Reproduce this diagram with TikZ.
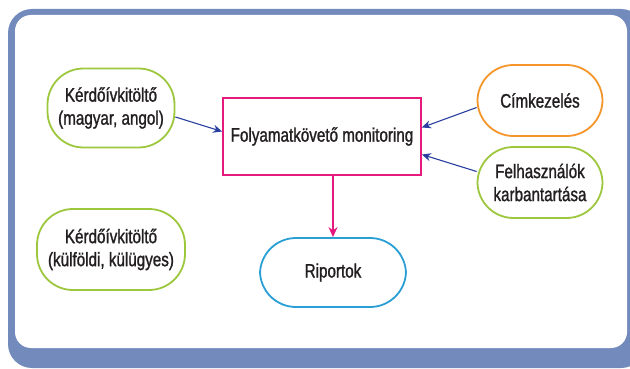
\documentclass[tikz,border=0pt]{standalone}
\usepackage{fontspec}
\setmainfont[FakeStretch=0.78,FakeBold=1.2]{Liberation Sans}
\usetikzlibrary{arrows.meta}
\definecolor{framec}{HTML}{738ABD}
\definecolor{greenc}{HTML}{9DC73C}
\definecolor{orangec}{HTML}{F5962A}
\definecolor{bluec}{HTML}{2A9FD6}
\definecolor{magc}{HTML}{E6197D}
\definecolor{navyc}{HTML}{2940A0}
\definecolor{txtc}{HTML}{231F20}
\tikzset{
  stadium/.style={draw, line width=1.8pt, rounded corners=36pt, align=center, text=txtc,
    font=\fontsize{19.5}{23}\selectfont, inner sep=0pt},
  procbox/.style={draw=magc, line width=1.8pt, align=center, text=txtc,
    font=\fontsize{19.5}{23}\selectfont, inner sep=0pt, minimum width=198pt, minimum height=77pt},
  navyarrow/.style={draw=navyc, line width=1.1pt, -{Stealth[length=9pt,width=8pt]}},
  magarrow/.style={draw=magc, line width=1.6pt, -{Stealth[length=10pt,width=9pt]}}
}
\begin{document}
\begin{tikzpicture}[x=1pt,y=-1pt]
\useasboundingbox (0,0) rectangle (630,369);
\fill[framec, rounded corners=24pt] (8,9) rectangle (645,368);
\fill[white, rounded corners=16pt] (15,15) rectangle (627,348);

\node[stadium, draw=greenc, minimum width=127pt, minimum height=79pt] (k1) at (111,108) {Kérdőívkitöltő\\(magyar, angol)};
\node[procbox] (fm) at (322,136.5) {Folyamatkövető monitoring};
\node[stadium, draw=orangec, minimum width=125pt, minimum height=71pt] (cim) at (540,100.5) {Címkezelés};
\node[stadium, draw=greenc, minimum width=125pt, minimum height=71pt] (fel) at (540,182.5) {Felhasználók\\karbantartása};
\node[stadium, draw=greenc, minimum width=148pt, minimum height=81pt] (k2) at (111,249.5) {Kérdőívkitöltő\\(külföldi, külügyes)};
\node[stadium, draw=bluec, minimum width=146pt, minimum height=69pt] (rip) at (333,272.5) {Riportok};

\draw[navyarrow] ([yshift=-9pt]k1.east) -- ([yshift=5pt]fm.west);
\draw[navyarrow] ([yshift=-7pt]cim.west) -- ([yshift=9pt]fm.east);
\draw[navyarrow] ([yshift=11pt]fel.west) -- ([yshift=-18pt]fm.east);
\draw[magarrow] (fm.south -| rip.north) -- (rip.north);
\end{tikzpicture}
\end{document}
